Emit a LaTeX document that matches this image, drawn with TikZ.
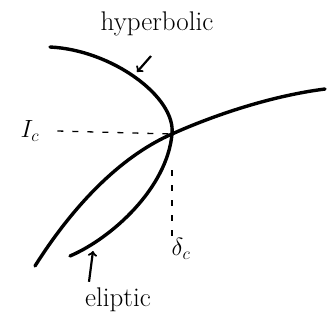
\documentclass[tikz,border=0pt]{standalone}
\usepackage{tikz}
\usetikzlibrary{arrows,positioning,calc}

\begin{document}
\begin{tikzpicture}[x=1pt,y=-1pt,
  branch/.style={line width=3.4pt, line cap=round},
  guide/.style={line width=1.3pt, dash pattern=on 6pt off 9pt},
  ptr/.style={->, >=to, line width=2.2pt},
  lbl/.style={inner sep=0pt, font=\fontsize{27}{27}\selectfont}
]
\useasboundingbox (0,0) rectangle (327,330);

% Critical point
\coordinate (crit) at (172,134);

% Branches
\draw[branch] (50,47) .. controls (112,50) and (176,97) .. (crit)
  .. controls (167,188) and (112,238) .. (70,256);
\draw[branch] (35,266) .. controls (78,198) and (126,154) .. (crit)
  .. controls (212,116) and (270,96) .. (325,89);

% Labels
\node[lbl] (hyp) at (157,24) {hyperbolic};
\node[lbl] (ic) at (30,131) {$I_c$};
\node[lbl] (dc) at (181,249) {$\delta_c$};
\node[lbl] (ell) at (118,300) {eliptic};

% Guides to the critical point
\draw[guide] (ic.east) ++(18,0) -- (crit);
\draw[guide] (crit) ++(0,36) -- (dc.north -| crit);

% Pointers to the branches
\coordinate (hyptip) at (137,72);
\coordinate (elltip) at (93,251);
\draw[ptr] (151,56) -- (hyptip);
\draw[ptr] (ell.north) ++(-29,-6) -- (elltip);
\end{tikzpicture}
\end{document}
